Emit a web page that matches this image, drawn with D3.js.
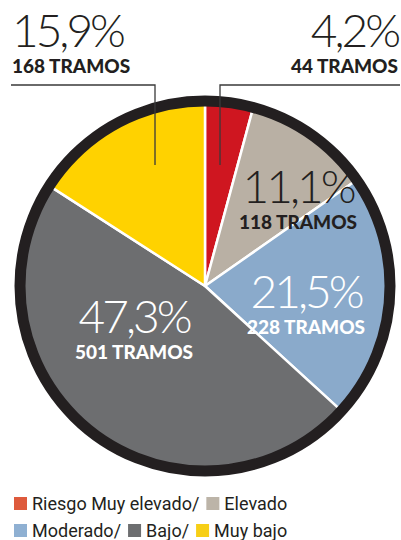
<!DOCTYPE html>
<meta charset="utf-8">
<script src="https://d3js.org/d3.v7.min.js"></script>
<style>
  body { margin: 0; background: #fff; }
  .pct { font-family: "Lato", sans-serif; font-weight: 300; }
  .tramos { font-family: "Lato", sans-serif; font-weight: 900; }
  .legend { font-family: "Roboto", sans-serif; font-weight: 400; }
</style>
<div id="chart"></div>
<script>
// data
var categories = ["Riesgo Muy elevado", "Elevado", "Moderado", "Bajo", "Muy bajo"];
var shares = [4.2, 11.1, 21.5, 47.3, 15.9];
var tramos = [44, 118, 228, 501, 168];
var colors = ["#cf1620", "#b9b0a4", "#8aaacb", "#6d6e70", "#ffd200"];
var legendColors = ["#de5a3c", "#bcb4a8", "#8fb0d2", "#6d6e70", "#f7cf16"];
var legendRows = [[0, 1], [2, 3, 4]];

var width = 401, height = 540;
var cx = 205, cy = 286, radius = 185;

// label placement, relative to the pie centre
var labelPos = [
  { dx: 193, dy: -239, anchor: "end", fill: "#231f20", leader: [[15, -121], [15, -201], [195, -201]] },
  { dx: 93, dy: -83, anchor: "middle", fill: "#231f20" },
  { dx: 101, dy: 22, anchor: "middle", fill: "#fff" },
  { dx: -71, dy: 47, anchor: "middle", fill: "#fff" },
  { dx: -193, dy: -239, anchor: "start", fill: "#231f20", leader: [[-50, -121], [-50, -201], [-194, -201]] }
];

var fmt = d3.formatLocale({ decimal: ",", thousands: ".", grouping: [3], currency: ["", "€"] }).format(".1f");

var svg = d3.select("#chart").append("svg")
  .attr("width", width)
  .attr("height", height);

var g = svg.append("g").attr("transform", `translate(${cx},${cy})`);

var pie = d3.pie().sort(null).value(function (d) { return d; });
var arc = d3.arc().innerRadius(0).outerRadius(radius);

g.selectAll("path.slice")
  .data(pie(shares))
  .enter()
  .append("path")
  .attr("class", "slice")
  .attr("d", arc)
  .attr("fill", function (d, i) { return colors[i]; })
  .attr("stroke", "#fff")
  .attr("stroke-width", 2.5)
  .attr("stroke-linejoin", "round");

// thick dark rim
g.append("circle")
  .attr("r", radius)
  .attr("fill", "none")
  .attr("stroke", "#231f20")
  .attr("stroke-width", 11);

// leader lines for the outside labels
labelPos.forEach(function (p) {
  if (!p.leader) return;
  g.append("path")
    .attr("d", d3.line()(p.leader))
    .attr("fill", "none")
    .attr("stroke", "#3a3a3a")
    .attr("stroke-width", 1.3);
});

// labels
var lab = g.selectAll("g.label")
  .data(shares)
  .enter()
  .append("g")
  .attr("class", "label")
  .attr("transform", function (d, i) { return `translate(${labelPos[i].dx},${labelPos[i].dy})`; });

lab.append("text")
  .attr("class", "pct")
  .attr("text-anchor", function (d, i) { return labelPos[i].anchor; })
  .attr("fill", function (d, i) { return labelPos[i].fill; })
  .attr("font-size", 46)
  .attr("letter-spacing", -3)
  .text(function (d) { return fmt(d) + "%"; });

lab.append("text")
  .attr("class", "tramos")
  .attr("text-anchor", function (d, i) { return labelPos[i].anchor; })
  .attr("fill", function (d, i) { return labelPos[i].fill; })
  .attr("font-size", 19)
  .attr("y", 26)
  .text(function (d, i) { return tramos[i] + " TRAMOS"; });

// legend
var legend = svg.append("g").attr("class", "legend");
legendRows.forEach(function (row, r) {
  var x = 14, y = 510 + r * 27;
  row.forEach(function (idx, k) {
    legend.append("rect")
      .attr("x", x).attr("y", y - 13)
      .attr("width", 13).attr("height", 13)
      .attr("fill", legendColors[idx]);
    var t = legend.append("text")
      .attr("x", x + 18).attr("y", y)
      .attr("font-size", 18)
      .attr("fill", "#231f20")
      .text(categories[idx] + (k < row.length - 1 ? "/" : ""));
    x += 18 + t.node().getComputedTextLength() + 7;
  });
});
</script>
